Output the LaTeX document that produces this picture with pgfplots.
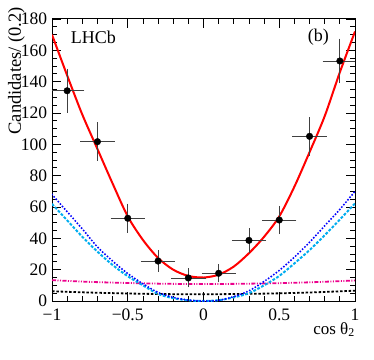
\documentclass[border=0pt]{standalone}
\usepackage{fontspec}
\setmainfont{Liberation Serif}
\usepackage{pgfplots}
\pgfplotsset{compat=1.18}

\pgfplotstableread{
x     y      ex   ey
-0.9  134.2  0.1  12.7
-0.7  101.7  0.1  11.0
-0.5  52.8   0.1  8.0
-0.3  25.5   0.1  5.5
-0.1  14.7   0.1  4.8
0.1   17.7   0.1  4.6
0.3   38.7   0.1  6.6
0.5   51.7   0.1  7.7
0.7   105.1  0.1  11.0
0.9   153.2  0.1  13.0
}\datatable

\begin{document}
\fontsize{17}{20}\selectfont
\begin{tikzpicture}
\begin{axis}[
  width=303pt, height=282pt, scale only axis,
  xmin=-1, xmax=1, ymin=0, ymax=180,
  xtick={-1,-0.5,0,0.5,1},
  xticklabels={−1,−0.5,0,0.5,1},
  minor x tick num=4,
  ytick={0,20,...,180}, minor y tick num=3,
  tick align=inside,
  major tick length=9pt, minor tick length=5pt,
  every tick/.style={black, line width=0.8pt},
  axis line style={line width=1pt},
  /pgf/number format/assume math mode=true,
  xticklabel style={font=\fontsize{17.5}{20}\selectfont, yshift=-2pt},
  yticklabel style={font=\fontsize{17.5}{20}\selectfont, xshift=1pt},
  xlabel={cos θ\textsubscript{2}},
  xlabel style={font=\fontsize{17}{20}\selectfont, at={(axis description cs:1,0)}, anchor=north east, yshift=-21pt, inner sep=0pt},
  ylabel={Candidates/ (0.2)},
  ylabel style={font=\fontsize{18.5}{20}\selectfont, at={(axis description cs:-0.117,1.043)}, anchor=east, inner sep=0pt},
  clip=true,
]
% black dotted component
\addplot[black, line width=1.8pt, dash pattern=on 2.5pt off 1.8pt, smooth] coordinates {
  (-1,6.2) (-0.75,5.4) (-0.5,4.8) (-0.25,4.4) (0,4.3) (0.25,4.5) (0.5,4.9) (0.75,5.6) (1,6.6)
};
% magenta dash-dot-dot component
\addplot[magenta, line width=1.8pt, dash pattern=on 4pt off 1.5pt on 1pt off 1.5pt on 1pt off 1.5pt, smooth] coordinates {
  (-1,13.3) (-0.75,12.2) (-0.5,11.5) (-0.25,11) (0,10.8) (0.25,11) (0.5,11.4) (0.75,12.1) (1,13.1)
};
% cyan dashed component
\addplot[cyan, line width=2pt, dash pattern=on 2.8pt off 1.6pt, smooth] coordinates {
  (-1,62) (-0.9,51.5) (-0.8,41) (-0.7,31.5) (-0.6,23) (-0.5,15.8) (-0.4,10) (-0.3,4.5)
  (-0.2,1.8) (-0.1,0.4) (0,0) (0.1,0.5) (0.2,2.3) (0.3,5) (0.4,10) (0.5,16)
  (0.6,24) (0.7,32.5) (0.8,42) (0.9,52) (1,62.3)
};
% blue dotted component
\addplot[blue, line width=2.2pt, line cap=round, dash pattern=on 0pt off 3.2pt, smooth] coordinates {
  (-1,68) (-0.9,57) (-0.8,46) (-0.7,34.5) (-0.6,25.5) (-0.5,17.5) (-0.4,11) (-0.3,5.5)
  (-0.2,2.3) (-0.1,0.6) (0,0) (0.1,0.4) (0.2,2.8) (0.3,6.5) (0.4,12.5) (0.5,19.5)
  (0.6,28) (0.7,37.5) (0.8,48) (0.9,58.5) (1,70)
};
% total fit
\addplot[red, line width=2pt, smooth] coordinates {
  (-1,170) (-0.9,144) (-0.8,119) (-0.7,97) (-0.6,75) (-0.5,54) (-0.4,39) (-0.3,27.5)
  (-0.2,20) (-0.1,16) (0,15) (0.1,16.8) (0.2,22) (0.3,30.5) (0.4,41) (0.5,54)
  (0.6,73) (0.7,95) (0.8,118) (0.9,146) (1,172)
};
% data
\addplot[only marks, mark=*, mark size=3.3pt, black,
  error bars/.cd, x dir=both, x explicit, y dir=both, y explicit,
  error bar style={black!75, line width=0.9pt},
  error mark options={black!75, mark size=2pt, line width=0.9pt}]
  table[x=x, y=y, x error=ex, y error=ey] {\datatable};
\node[anchor=base west, inner sep=0pt, font=\fontsize{18}{20}\selectfont] at (axis cs:-0.876,164.5) {LHCb};
\node[anchor=base west, inner sep=0pt, font=\fontsize{18}{20}\selectfont] at (axis cs:0.687,165.5) {(b)};
\end{axis}
\pgfresetboundingbox
\path[use as bounding box] ([xshift=-52pt,yshift=-58pt]current axis.south west) rectangle ([xshift=19pt,yshift=19pt]current axis.north east);
\end{tikzpicture}
\end{document}
